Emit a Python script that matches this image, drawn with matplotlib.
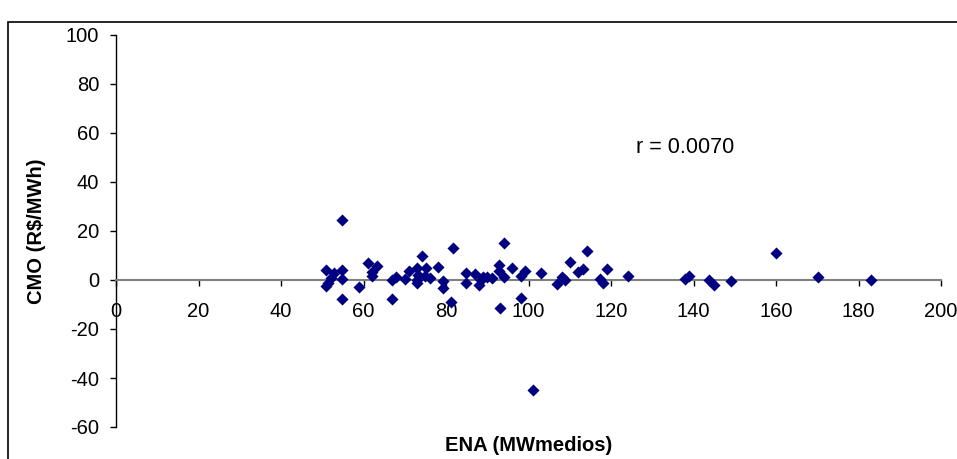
import matplotlib.pyplot as plt
from matplotlib.patches import Rectangle

# ENA (MWmedios) vs CMO (R$/MWh)
ena = [50.9, 52.9, 52.0, 50.9, 51.5, 54.9, 54.9, 54.9, 54.9, 59.0,
       61.2, 63.2, 62.0, 62.1, 66.8, 67.9, 66.9, 70.0, 71.0, 73.0,
       74.1, 75.2, 72.9, 73.3, 72.9, 76.0, 74.9, 78.0, 79.2, 79.2,
       81.1, 81.8, 84.8, 84.8, 87.0, 88.1, 88.6, 89.0, 90.0, 91.1,
       92.9, 92.9, 93.1, 94.1, 94.1, 96.1, 98.1, 99.2, 98.1, 101.0,
       103.0, 107.0, 108.0, 108.8, 110.0, 112.1, 113.1, 114.1, 117.3, 118.1,
       119.0, 124.0, 137.9, 138.9, 143.8, 145.0, 149.0, 159.9, 170.1, 183.0]
cmo = [4.1, 2.7, 0.7, -2.4, -1.1, 24.5, 4.1, 0.4, -7.8, -2.7,
       7.1, 5.7, 3.4, 1.6, 0.0, 1.1, -7.8, 0.4, 3.7, 4.8,
       9.8, 4.8, 0.0, 2.0, -1.4, 0.7, 1.6, 5.3, -0.4, -3.4,
       -8.8, 13.2, 3.0, -1.1, 2.4, -2.0, 0.0, 1.4, 1.1, 0.7,
       6.1, 3.8, -11.6, 15.0, 1.1, 4.8, 1.6, 3.8, -7.2, -45.0,
       3.0, -1.5, 1.1, 0.0, 7.5, 3.4, 4.5, 12.0, 0.3, -1.1,
       4.5, 1.6, 0.3, 1.8, 0.0, -2.0, -0.4, 10.9, 1.2, 0.0]
x_ticks = [0, 20, 40, 60, 80, 100, 120, 140, 160, 180, 200]
y_ticks = [-60, -40, -20, 0, 20, 40, 60, 80, 100]
r_text = "r = 0.0070"

plt.rcParams['font.family'] = ['Liberation Sans', 'DejaVu Sans']
plt.rcParams['axes.unicode_minus'] = False

fig = plt.figure(figsize=(9.57, 4.59), dpi=100)
ax = fig.add_axes([116 / 957, 1 - 427 / 459, 825 / 957, 392 / 459])

ax.scatter(ena, cmo, marker='D', s=38, color='#000080', zorder=3, linewidths=0)

ax.set_xlim(0, 200)
ax.set_ylim(-60, 100)
ax.set_xticks(x_ticks)
ax.set_yticks(y_ticks)

# x axis crosses at y = 0
ax.spines['bottom'].set_position(('data', 0))
ax.spines['bottom'].set_color('#808080')
ax.spines['bottom'].set_linewidth(1.5)
ax.spines['top'].set_visible(False)
ax.spines['right'].set_visible(False)
ax.spines['left'].set_linewidth(1.0)

ax.tick_params(axis='x', direction='out', length=4.5, width=1, pad=11, labelsize=14.5, color='black')
ax.tick_params(axis='y', direction='out', length=4, width=1, pad=8, labelsize=14.5)

ax.set_ylabel("CMO (R$/MWh)", fontsize=14.5, fontweight='bold', va='center')
ax.yaxis.set_label_coords(-0.096, 0.5)
ax.set_xlabel("ENA (MWmedios)", fontsize=14.5, fontweight='bold', va='center')
ax.xaxis.set_label_coords(0.5, -0.046)

ax.text(126, 54, r_text, fontsize=15.5, va='center', ha='left')

# chart area border
fig.patches.append(Rectangle((8 / 957, -0.2), 1.2, 1.2 - 22 / 459, transform=fig.transFigure,
                             fill=False, edgecolor='black', linewidth=1.2))

fig.savefig("out.png", dpi=100)
